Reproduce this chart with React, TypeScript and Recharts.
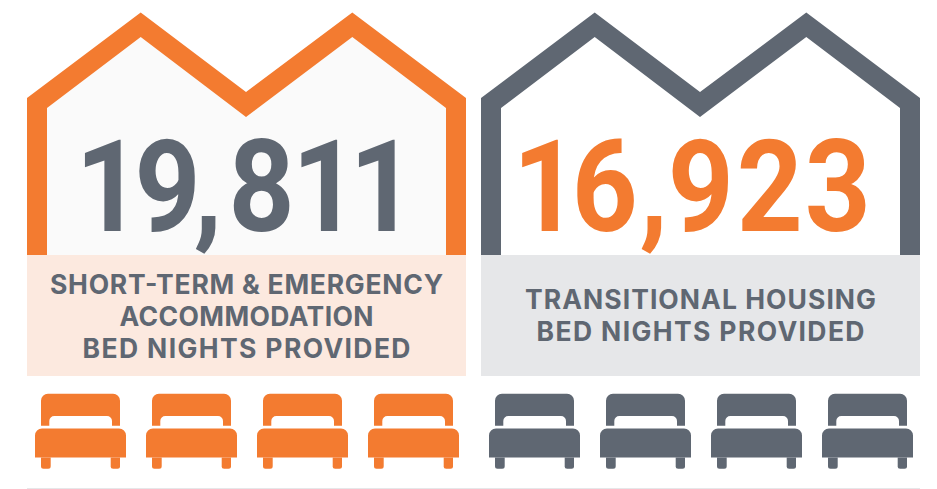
import { BarChart, Bar, XAxis, YAxis } from "recharts";

const programs = ["Short-term & emergency", "Transitional housing"];
const bedNights = [19811, 16923];
const captions = [
  ["SHORT-TERM & EMERGENCY", "ACCOMMODATION", "BED NIGHTS PROVIDED"],
  ["TRANSITIONAL HOUSING", "BED NIGHTS PROVIDED"],
];
const bedSeats = ["a", "b", "c", "d"];

const ORANGE = "#f37b30";
const SLATE = "#5f6772";
const frameColors = [ORANGE, SLATE];
const numberColors = [SLATE, ORANGE];
const roomColors = ["#fafafa", "#ffffff"];
const panelColors = ["#fce9df", "#e6e7e9"];

// the original numerals are narrower than Roboto and set proportionally
const NUMBER_SQUEEZE = 0.9;
const glyphCenters = [
  [81.5, 140.5, 181, 234.5, 298, 355.5],
  [64.7, 123.7, 172.7, 219.7, 288.7, 356.7],
];
const captionWidths = [
  [393, 254, 328],
  [351, 328],
];

const houseData = programs.map((program, i) => ({
  program,
  frame: 1,
  nights: bedNights[i],
  caption: captions[i],
}));
const bedData = bedSeats.map((seat) => ({ seat, bed: 1 }));

function HouseShape(props: any) {
  const { x, y, width, index, payload } = props;
  const wall = 242.5;
  const outer = [
    [0, 85.5],
    [113.7, 0],
    [219, 79.5],
    [325.3, 0],
    [width, 85.5],
    [width, wall],
    [0, wall],
  ];
  const inner = [
    [20, 95.5],
    [113.7, 24.5],
    [219, 104.5],
    [325.3, 24.5],
    [width - 20, 95.5],
    [width - 20, wall],
    [20, wall],
  ];
  const pts = (list: number[][]) =>
    list.map(([px, py]) => `${x + px},${y + py}`).join(" ");
  const lines: string[] = payload.caption;
  const firstBaseline = lines.length === 3 ? 281 : 296.5;
  const numberX = glyphCenters[index]
    .map((c) => (x + c) / NUMBER_SQUEEZE)
    .join(" ");

  return (
    <g>
      <polygon points={pts(outer)} fill={frameColors[index]} />
      <polygon points={pts(inner)} fill={roomColors[index]} />
      <rect x={x} y={y + wall} width={width} height={121} fill={panelColors[index]} />
      <text
        transform={`scale(${NUMBER_SQUEEZE},1)`}
        x={numberX}
        y={y + 218.5}
        textAnchor="middle"
        fontFamily="Roboto"
        fontWeight={700}
        fontSize={128}
        fill={numberColors[index]}
      >
        {payload.nights.toLocaleString("en-US")}
      </text>
      {lines.map((line, i) => (
        <text
          key={line}
          x={x + width / 2}
          y={y + firstBaseline + i * 32}
          textAnchor="middle"
          textLength={captionWidths[index][i]}
          fontFamily="Inter"
          fontWeight={700}
          fontSize={26.5}
          fill={SLATE}
        >
          {line}
        </text>
      ))}
    </g>
  );
}

function BedShape(props: any) {
  const { x, y, fill } = props;
  return (
    <g transform={`translate(${x},${y})`} fill={fill}>
      <path d="M6 32V7a7 7 0 0 1 7-7h65a7 7 0 0 1 7 7v25h-8v-4.700a5 5 0 0 0-5-5H19.300a5 5 0 0 0-5 5V32Z" />
      <path d="M0 63.700V41.700a7 7 0 0 1 7-7h77a7 7 0 0 1 7 7v22Z" />
      <path d="M6 63.700h9.700V72.500a2.500 2.500 0 0 1-2.500 2.500H8.500a2.500 2.500 0 0 1-2.500-2.500Z" />
      <path d="M75.700 63.700H85V72.500a2.500 2.500 0 0 1-2.500 2.500h-4.300a2.500 2.500 0 0 1-2.500-2.500Z" />
    </g>
  );
}

function BedRow({ left, color }: { left: number; color: string }) {
  return (
    <div style={{ position: "absolute", left, top: 393 }}>
      <BarChart
        width={444}
        height={90}
        data={bedData}
        margin={{ top: 0.7, right: 0, bottom: 15.3, left: 0 }}
        barSize={91}
      >
        <XAxis dataKey="seat" hide />
        <YAxis hide domain={[0, 1]} />
        <Bar dataKey="bed" fill={color} shape={<BedShape />} isAnimationActive={false} />
      </BarChart>
    </div>
  );
}

export default function App() {
  return (
    <div
      style={{
        position: "absolute",
        left: 0,
        top: 0,
        width: 937,
        height: 489,
        overflow: "hidden",
        background: "#ffffff",
      }}
    >
      <BarChart
        width={937}
        height={489}
        data={houseData}
        margin={{ top: 12.5, right: 9.5, bottom: 113, left: 19.5 }}
        barCategoryGap={7.5}
      >
        <XAxis dataKey="program" hide />
        <YAxis hide domain={[0, 1]} />
        <Bar dataKey="frame" shape={<HouseShape />} isAnimationActive={false} />
      </BarChart>
      <BedRow left={25} color={ORANGE} />
      <BedRow left={478.5} color={SLATE} />
      <div
        style={{
          position: "absolute",
          left: 27,
          top: 488,
          width: 893,
          height: 1,
          background: "#e6e7e9",
        }}
      />
    </div>
  );
}
